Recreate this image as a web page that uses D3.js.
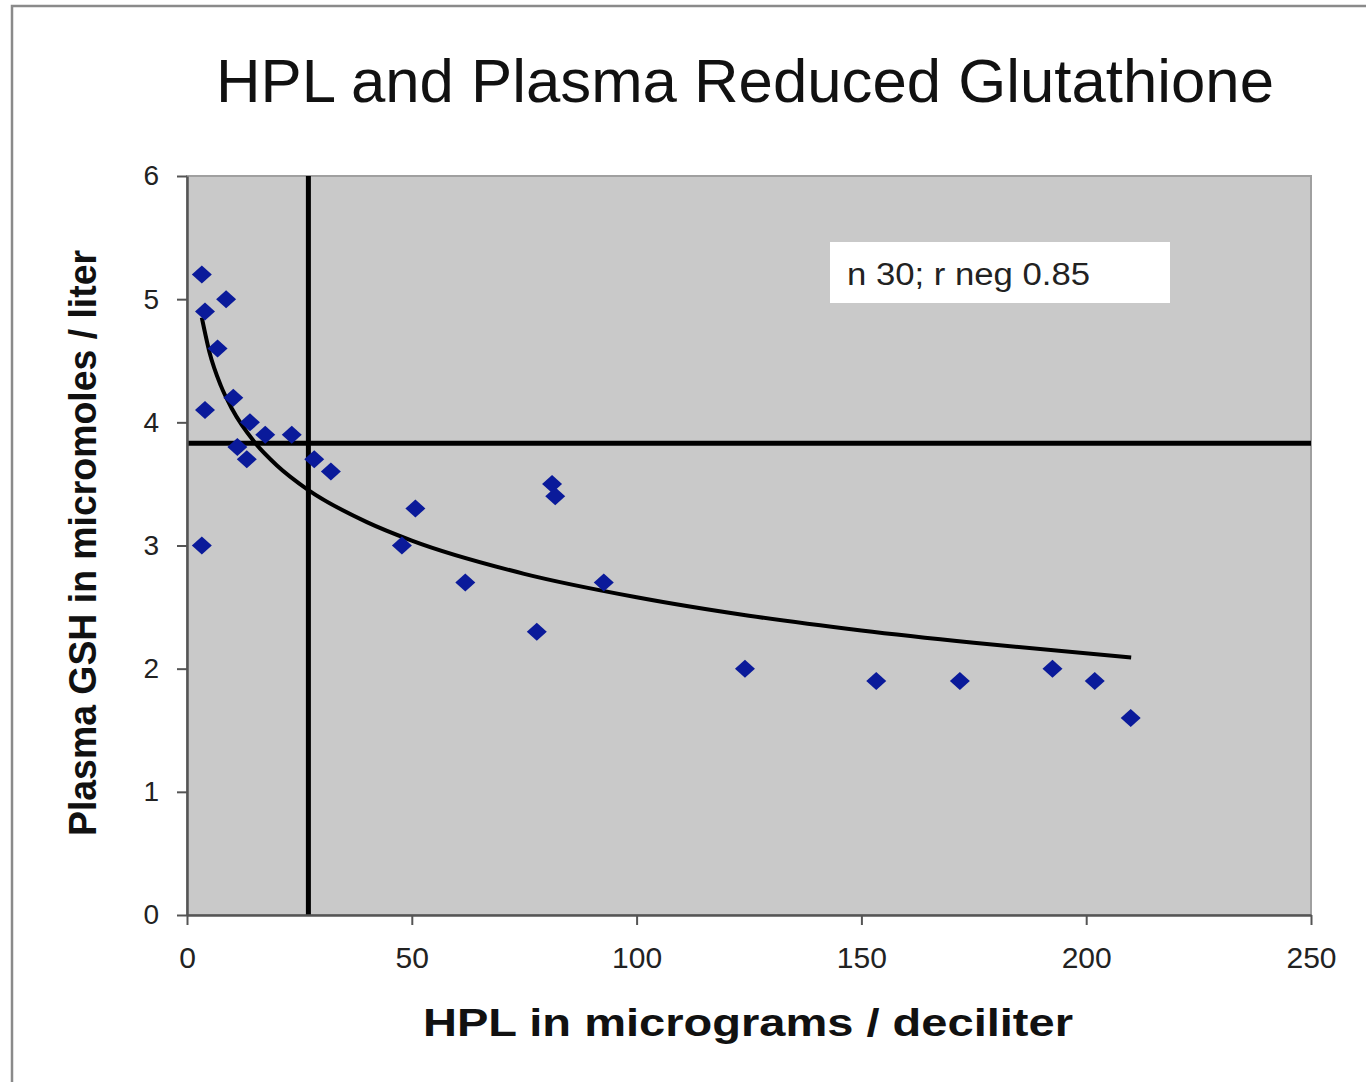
<!DOCTYPE html>
<html>
<head>
<meta charset="utf-8">
<script src="https://cdn.jsdelivr.net/npm/d3@7"></script>
<style>
  html, body { margin: 0; padding: 0; background: #fff; }
  svg { display: block; font-family: "Liberation Sans", Arial, sans-serif; }
</style>
</head>
<body>
<svg id="chart" width="1366" height="1082"></svg>
<script>
// ---- data ----
const hplValues = [3.3, 8.7, 4.0, 6.8, 10.3, 4.0, 14.0, 17.4, 23.3, 11.2, 13.3, 28.3, 32.0, 3.3,
                   50.8, 47.8, 61.9, 81.2, 81.9, 77.8, 92.7,
                   124.1, 153.3, 171.9, 192.5, 201.9, 209.9];
const gshValues = [5.2, 5.0, 4.9, 4.6, 4.2, 4.1, 4.0, 3.9, 3.9, 3.8, 3.7, 3.7, 3.6, 3.0,
                   3.3, 3.0, 2.7, 3.5, 3.4, 2.3, 2.7,
                   2.0, 1.9, 1.9, 2.0, 1.9, 1.6];
// trend line (logarithmic trend) points
const trendX = [3.3, 5, 7.5, 10, 15, 20, 27, 40, 50, 75, 100, 125, 150, 175, 210];
const trendY = [4.85, 4.57, 4.30, 4.11, 3.84, 3.65, 3.45, 3.19, 3.04, 2.77, 2.58, 2.43, 2.31, 2.21, 2.09];
// reference (cut-off) lines
const refHPL = [27];
const refGSH = [3.83];
const xTicks = [0, 50, 100, 150, 200, 250];
const yTicks = [0, 1, 2, 3, 4, 5, 6];
const titleText = "HPL and Plasma Reduced Glutathione";
const xTitle = "HPL in micrograms / deciliter";
const yTitle = "Plasma GSH in micromoles / liter";
const annotation = "n 30; r neg 0.85";

// ---- layout ----
const svg = d3.select("#chart");
const plot = { left: 187, right: 1311, top: 176, bottom: 915 };
const x = d3.scaleLinear().domain([0, 250]).range([plot.left, plot.right]);
const y = d3.scaleLinear().domain([0, 6]).range([plot.bottom, plot.top]);

// outer frame
svg.append("rect").attr("x", 12).attr("y", 6).attr("width", 1400).attr("height", 1200)
  .attr("fill", "#fff").attr("stroke", "#8a8a8a").attr("stroke-width", 2.5);

// plot area
svg.append("rect").attr("x", plot.left).attr("y", plot.top)
  .attr("width", plot.right - plot.left).attr("height", plot.bottom - plot.top)
  .attr("fill", "#c9c9c9").attr("stroke", "#a0a0a0").attr("stroke-width", 2);

// title
svg.append("text").attr("x", 745).attr("y", 102).attr("text-anchor", "middle")
  .attr("font-size", 62).attr("fill", "#111")
  .attr("textLength", 1058).attr("lengthAdjust", "spacingAndGlyphs")
  .text(titleText);

// annotation box
svg.append("rect").attr("x", 830).attr("y", 242).attr("width", 340).attr("height", 61)
  .attr("fill", "#fff");
svg.append("text").attr("x", 847).attr("y", 285).attr("font-size", 31).attr("fill", "#222")
  .attr("textLength", 243).attr("lengthAdjust", "spacingAndGlyphs")
  .text(annotation);

// reference lines
svg.append("g").selectAll("line.rv").data(refHPL).join("line")
  .attr("x1", d => x(d)).attr("x2", d => x(d)).attr("y1", y(6)).attr("y2", y(0))
  .attr("stroke", "#000").attr("stroke-width", 5);
svg.append("g").selectAll("line.rh").data(refGSH).join("line")
  .attr("x1", x(0)).attr("x2", x(250)).attr("y1", d => y(d)).attr("y2", d => y(d))
  .attr("stroke", "#000").attr("stroke-width", 5);

// trend line
const trend = trendX.map((v, i) => [v, trendY[i]]);
svg.append("path").datum(trend)
  .attr("d", d3.line().x(d => x(d[0])).y(d => y(d[1])).curve(d3.curveMonotoneX))
  .attr("fill", "none").attr("stroke", "#000").attr("stroke-width", 4);

// points
const pts = hplValues.map((v, i) => [v, gshValues[i]]);
svg.append("g").selectAll("path.pt").data(pts).join("path")
  .attr("transform", d => `translate(${x(d[0])},${y(d[1])})`)
  .attr("d", "M0,-9L10,0L0,9L-10,0Z")
  .attr("fill", "#0a1a9a");

// axes
const xAxis = d3.axisBottom(x).tickValues(xTicks).tickFormat(d3.format("d"))
  .tickSize(10).tickSizeOuter(0).tickPadding(22);
const yAxis = d3.axisLeft(y).tickValues(yTicks).tickFormat(d3.format("d"))
  .tickSize(10).tickSizeOuter(0).tickPadding(18);
const gx = svg.append("g").attr("transform", `translate(0,${plot.bottom})`).call(xAxis);
const gy = svg.append("g").attr("transform", `translate(${plot.left},0)`).call(yAxis);
[gx, gy].forEach(g => {
  g.select(".domain").attr("stroke", "#555").attr("stroke-width", 2.5);
  g.selectAll(".tick line").attr("stroke", "#555").attr("stroke-width", 2);
  g.selectAll(".tick text").attr("fill", "#222")
    .attr("font-family", "'Liberation Sans', Arial, sans-serif");
});
gx.selectAll(".tick text").attr("font-size", 30);
gy.selectAll(".tick text").attr("font-size", 28);

// axis titles
svg.append("text").attr("x", 748).attr("y", 1036).attr("text-anchor", "middle")
  .attr("font-size", 39).attr("font-weight", "bold").attr("fill", "#111")
  .attr("textLength", 650).attr("lengthAdjust", "spacingAndGlyphs")
  .text(xTitle);
svg.append("text").attr("transform", "translate(96,543) rotate(-90)")
  .attr("text-anchor", "middle")
  .attr("font-size", 39).attr("font-weight", "bold").attr("fill", "#111")
  .attr("textLength", 586).attr("lengthAdjust", "spacingAndGlyphs")
  .text(yTitle);
</script>
</body>
</html>
